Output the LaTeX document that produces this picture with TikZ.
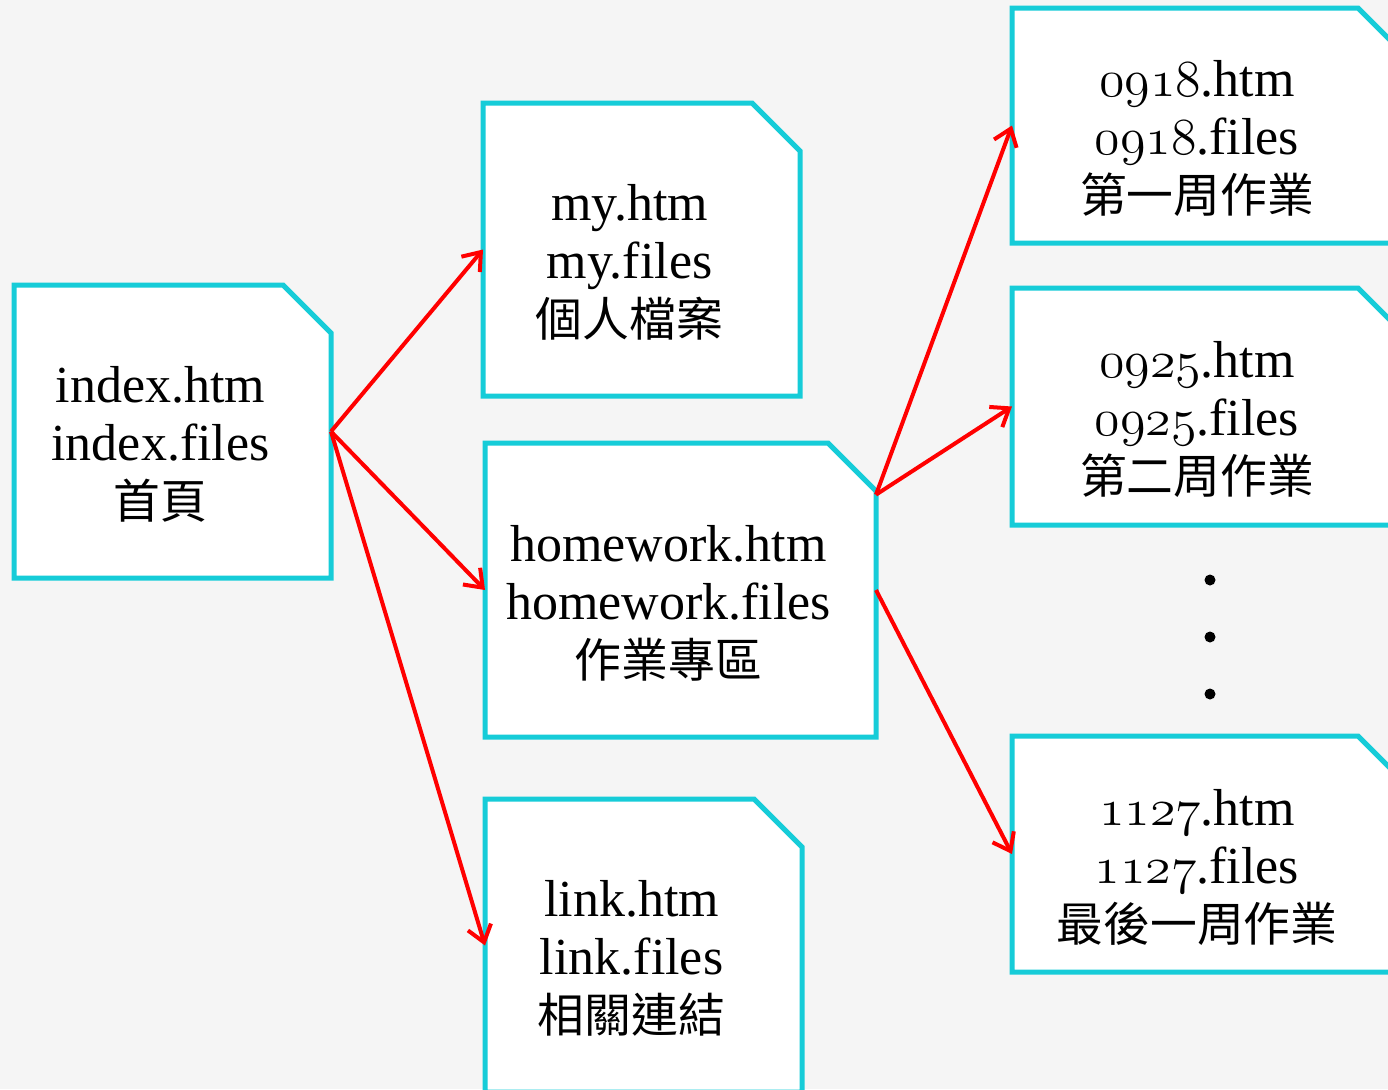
\documentclass[tikz,border=0pt]{standalone}
\usepackage{fix-cm}
\usepackage{fontspec}
\setmainfont{Liberation Serif}
\newfontfamily\cjk[Scale=0.9]{Noto Sans CJK TC}
\usetikzlibrary{arrows.meta}
\definecolor{boxcyan}{RGB}{22,204,216}
\definecolor{slidebg}{RGB}{245,245,245}
% old-style figures for the file names
\newcommand{\osn}[1]{{\usefont{OML}{cmm}{m}{it}#1}}

\begin{document}
\begin{tikzpicture}[x=0.5pt,y=0.5pt,yscale=-1,xscale=1,
    folder/.style={rectangle, inner sep=0pt, outer sep=0pt},
    folderline/.style={draw=boxcyan, line width=2.5pt, fill=white, line join=miter},
    txt/.style={align=center, inner sep=0pt, font=\fontsize{26}{29}\selectfont},
    redarrow/.style={draw=red, line width=2pt, -{Straight Barb[length=8pt,width=12pt]}},
    dot/.style={circle, fill=black, inner sep=0pt, minimum size=5.5pt}]
    
    %slide frame
    \useasboundingbox (0,0) rectangle (1388,1089);
    \clip (0,0) rectangle (1388,1089);
    \fill [slidebg] (0,0) rectangle (1388,1089);
    
    %Shape: Folders
    \node [folder, minimum width=317*0.5pt, minimum height=293*0.5pt] (index) at (172.5,431.5) {};
    \node [folder, minimum width=317*0.5pt, minimum height=293*0.5pt] (my) at (641.5,249.5) {};
    \node [folder, minimum width=391*0.5pt, minimum height=294*0.5pt] (homework) at (680.5,590) {};
    \node [folder, minimum width=317*0.5pt, minimum height=293*0.5pt] (link) at (643.5,945.5) {};
    \node [folder, minimum width=394*0.5pt, minimum height=235*0.5pt] (w0918) at (1209,125.5) {};
    \node [folder, minimum width=394*0.5pt, minimum height=237*0.5pt] (w0925) at (1209,406.5) {};
    \node [folder, minimum width=394*0.5pt, minimum height=236*0.5pt] (w1127) at (1209,854) {};
    %cut corner outlines (y axis is flipped, so yshift=24pt goes down)
    \foreach \n in {index,my,homework,link,w0918,w0925,w1127}
        \draw [folderline] (\n.south west) -- (\n.north west) -- ([xshift=-24pt]\n.north east)
            -- ([yshift=24pt]\n.north east) -- (\n.south east) -- cycle;
    
    % Text Node
    \node [txt] (index-t) at ([shift={(-12,13)}]index.center) {index.htm\\index.files\\{\cjk 首頁}};
    % Text Node
    \node [txt] (my-t) at ([shift={(-12,13)}]my.center) {my.htm\\my.files\\{\cjk 個人檔案}};
    % Text Node
    \node [txt] (homework-t) at ([shift={(-12,13)}]homework.center) {homework.htm\\homework.files\\{\cjk 作業專區}};
    % Text Node
    \node [txt] (link-t) at ([shift={(-12,13)}]link.center) {link.htm\\link.files\\{\cjk 相關連結}};
    % Text Node
    \node [txt] (w0918-t) at ([shift={(-12,13)}]w0918.center) {\osn{0918}.htm\\\osn{0918}.files\\{\cjk 第一周作業}};
    % Text Node
    \node [txt] (w0925-t) at ([shift={(-12,13)}]w0925.center) {\osn{0925}.htm\\\osn{0925}.files\\{\cjk 第二周作業}};
    % Text Node
    \node [txt] (w1127-t) at ([shift={(-12,13)}]w1127.center) {\osn{1127}.htm\\\osn{1127}.files\\{\cjk 最後一周作業}};
    
    %Dots
    \node [dot] (dot1) at (1210,580) {};
    \node [dot] (dot2) at (1210,637) {};
    \node [dot] (dot3) at (1210,694) {};
    
    %Straight Lines
    \draw [redarrow] (index.east) -- (my.west);
    \draw [redarrow] (index.east) -- (homework.west);
    \draw [redarrow] (index.east) -- (link.west);
    \draw [redarrow] (homework.26) -- (w0918.west);
    \draw [redarrow] (homework.26) -- (w0925.west);
    \draw [redarrow] (homework.east) -- (w1127.west);
    
\end{tikzpicture}
\end{document}
